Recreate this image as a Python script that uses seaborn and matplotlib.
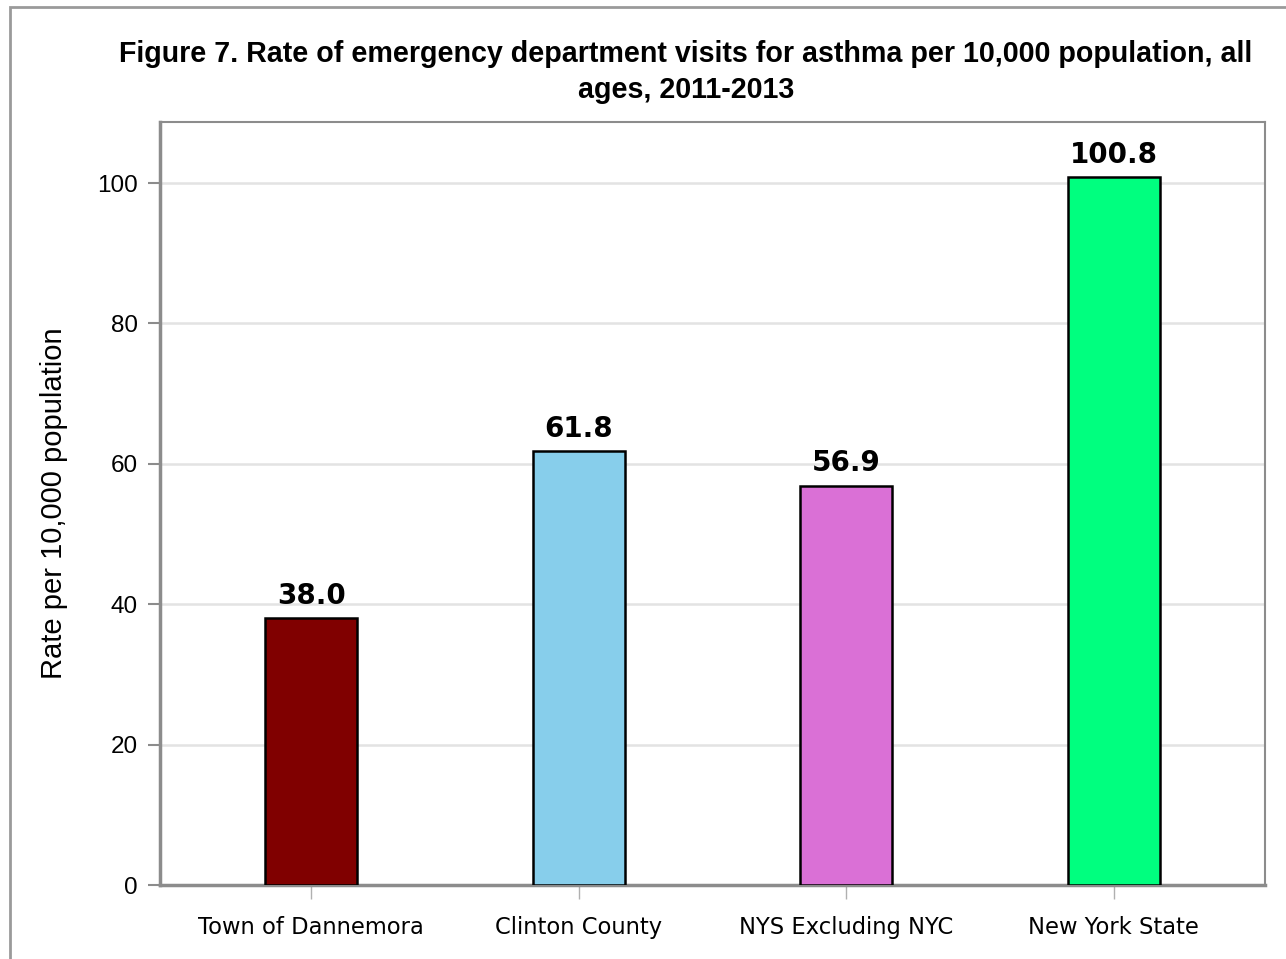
import pandas as pd
import seaborn as sns
import matplotlib.pyplot as plt
from matplotlib.patches import Rectangle

# data
areas = ["Town of Dannemora", "Clinton County", "NYS Excluding NYC", "New York State"]
rates = [38.0, 61.8, 56.9, 100.8]
bar_colors = ["#800000", "#87CEEB", "#DA70D6", "#00FF7F"]
y_ticks = [0, 20, 40, 60, 80, 100]

title = "Figure 7. Rate of emergency department visits for asthma per 10,000 population, all\nages, 2011-2013"
y_label = "Rate per 10,000 population"


def main():
    df = pd.DataFrame({"area": areas, "rate": rates})

    sns.set_theme(style="white")
    plt.rcParams['font.family'] = ['DejaVu Sans']
    plt.rcParams['text.color'] = 'black'
    plt.rcParams['xtick.color'] = 'black'
    plt.rcParams['ytick.color'] = 'black'

    fig = plt.figure(figsize=(12.86, 9.59), dpi=100)
    ax = fig.add_axes([160 / 1286, 1 - 885 / 959, 1105 / 1286, 763 / 959])

    sns.barplot(
        data=df, x="area", y="rate", hue="area",
        palette=bar_colors, saturation=1, legend=False, width=0.344,
        edgecolor="black", linewidth=1.8, ax=ax, zorder=3,
    )

    # value labels on top of bars
    for i, v in enumerate(rates):
        ax.annotate(f"{v:.1f}", (i, v), xytext=(0, 6), textcoords="offset points",
                    ha="center", va="bottom", fontsize=20, fontweight="bold", color="black")

    ax.set_xlim(-0.5645, 3.5645)
    ax.set_ylim(0, 108.7)
    ax.set_yticks(y_ticks)
    ax.yaxis.grid(True, color="#e3e3e3", linewidth=1.8, zorder=0)
    ax.set_axisbelow(True)

    ax.set_xlabel("")
    ax.set_ylabel(y_label, fontsize=21, labelpad=21, color="black", family=["Liberation Sans"])
    ax.tick_params(axis="y", length=9, width=1.5, color="#8c8c8c", labelcolor="black",
                   labelsize=17.5, left=True, pad=7)
    ax.tick_params(axis="x", length=10, width=1.0, color="#b0b0b0", labelcolor="black",
                   labelsize=16.3, bottom=True, pad=12)
    for lab in ax.get_yticklabels():
        lab.set_family(["Liberation Sans"])

    for side in ["left", "bottom"]:
        ax.spines[side].set_color("#8c8c8c")
        ax.spines[side].set_linewidth(2.5)
    for side in ["top", "right"]:
        ax.spines[side].set_color("#8c8c8c")
        ax.spines[side].set_linewidth(1.5)

    fig.text(686 / 1286, 1 - 72 / 959, title, ha="center", va="center",
             fontsize=20.6, fontweight="bold", family=["Liberation Sans"],
             linespacing=1.37, color="black")

    # outer frame
    fig.patches.append(Rectangle((10 / 1286, -0.01), 1.01, 1 - 7 / 959 + 0.01,
                                 transform=fig.transFigure, fill=False,
                                 edgecolor="#9a9a9a", linewidth=2))

    fig.savefig("out.png", dpi=100)


if __name__ == '__main__':
    main()
